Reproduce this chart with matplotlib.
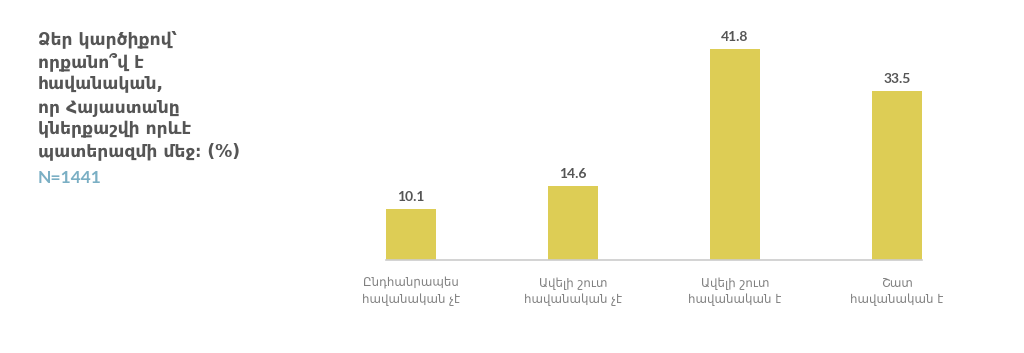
import matplotlib
matplotlib.use("Agg")
import matplotlib.pyplot as plt

categories = ["Ընդհանրապես\nհավանական չէ", "Ավելի շուտ\nհավանական չէ",
              "Ավելի շուտ\nհավանական է", "Շատ\nհավանական է"]
values = [10.1, 14.6, 41.8, 33.5]
title_lines = ["Ձեր կարծիքով՝", "որքանո՞վ է", "հավանական,", "որ Հայաստանը",
               "կներքաշվի որևէ", "պատերազմի մեջ։ (%)"]
n_label = "N=1441"

FAM = ["Lato", "DejaVu Sans"]
plt.rcParams['font.family'] = FAM

fig = plt.figure(figsize=(10.24, 3.53), dpi=100)
ax = fig.add_axes([386/1024, 93/353, 536/1024, 227/353])
w = 50/162
x = list(range(len(values)))
ax.bar(x, values, width=w, color="#DDCD55")
ax.set_xlim(-w/2, len(values) - 1 + w/2)
ax.set_ylim(0, 45)
for xi, v in zip(x, values):
    ax.text(xi, v + 1.2, f"{v}", ha="center", va="bottom", fontsize=10,
            fontweight="bold", color="#555555")
ax.set_xticks(x)
ax.set_xticklabels(categories, fontsize=8.5, color="#808080", linespacing=1.35,
                   family=["DejaVu Sans"])
ax.tick_params(axis="x", length=0, pad=12)
ax.set_yticks([])
for s in ["top", "right", "left"]:
    ax.spines[s].set_visible(False)
ax.spines["bottom"].set_color("#CCCCCC")
ax.spines["bottom"].set_linewidth(1.2)

fig.text(38/1024, 1 - 30/353, "\n".join(title_lines), ha="left", va="top",
         fontsize=12.3, fontweight="bold", color="#555555", linespacing=1.3,
         family=["DejaVu Sans"])
fig.text(38/1024, 1 - 170/353, n_label, ha="left", va="top",
         fontsize=12.5, fontweight="bold", color="#7AAFC4")

fig.savefig("out.png", dpi=100, facecolor="white")
